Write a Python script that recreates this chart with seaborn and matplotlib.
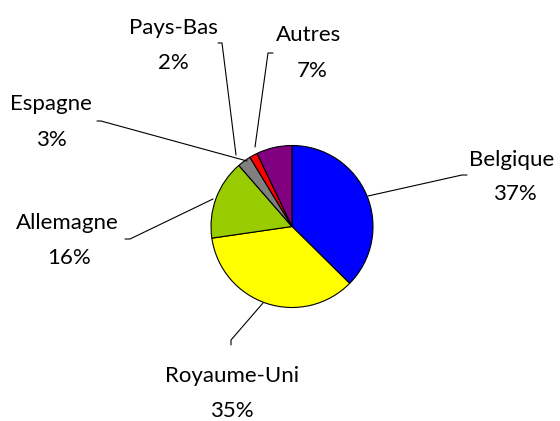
import matplotlib
matplotlib.use("Agg")
import matplotlib.pyplot as plt
import seaborn as sns

# Data
countries = ["Belgique", "Royaume-Uni", "Allemagne", "Espagne", "Pays-Bas", "Autres"]
shares = [37.4, 35.3, 15.9, 2.7, 1.6, 7.1]
pct_labels = ["37%", "35%", "16%", "3%", "2%", "7%"]
colors = ["#0000FF", "#FFFF00", "#99CC00", "#808080", "#FF0000", "#800080"]

sns.set_theme(style="white")
plt.rcParams["font.family"] = ["Lato", "DejaVu Sans"]

W, H = 560, 421
fig = plt.figure(figsize=(5.6, 4.21), dpi=100)
ax = fig.add_axes([0, 0, 1, 1])

cx, cy, r = 292, H - 226.5, 81
ax.pie(shares, colors=colors, startangle=90, counterclock=False,
       center=(cx, cy), radius=r, frame=True,
       wedgeprops=dict(edgecolor="black", linewidth=0.8))
ax.set_xlim(0, W)
ax.set_ylim(0, H)
ax.set_aspect("equal")
ax.axis("off")

# label layout (pixel coords, y from top)
name_pos = {"Belgique": (512, 160), "Royaume-Uni": (232, 376), "Allemagne": (67, 223),
            "Espagne": (51, 104), "Pays-Bas": (173, 28), "Autres": (309, 35)}
pct_pos = {"Belgique": (515, 194), "Royaume-Uni": (232, 411), "Allemagne": (69, 258),
           "Espagne": (51, 140), "Pays-Bas": (173, 63), "Autres": (312, 71)}
leaders = {"Belgique": [(467, 175), (462, 175), (368, 196)],
           "Royaume-Uni": [(231, 345), (231, 340), (263, 303)],
           "Allemagne": [(125, 239), (130, 239), (213, 199)],
           "Espagne": [(97, 121), (101, 121), (247, 161)],
           "Pays-Bas": [(218, 43), (222, 43), (236, 155)],
           "Autres": [(273, 53), (268, 53), (255, 147)]}

for c, p in zip(countries, pct_labels):
    x, y = name_pos[c]
    ax.text(x, H - y, c, ha="center", va="center", fontsize=16, color="black")
    x, y = pct_pos[c]
    ax.text(x, H - y, p, ha="center", va="center", fontsize=16, color="black")
    pts = leaders[c]
    ax.plot([q[0] for q in pts], [H - q[1] for q in pts], color="black", lw=0.8)

fig.savefig("out.png", dpi=100)
